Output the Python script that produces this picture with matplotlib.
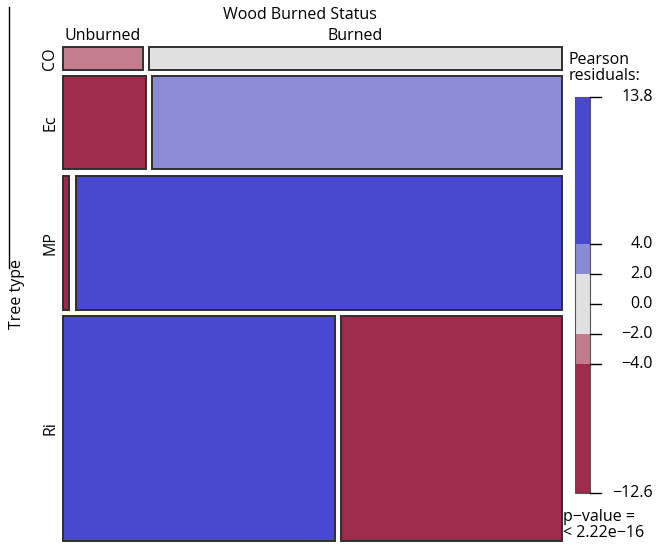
import matplotlib
matplotlib.use('Agg')

import numpy as np
from matplotlib import pyplot as plt
from matplotlib.patches import Rectangle

tree_types = ['CO', 'Ec', 'MP', 'Ri']
status = ['Unburned', 'Burned']
unburned = [16, 66, 7, 526]
burned = [83, 329, 561, 427]

counts = np.array([unburned, burned], dtype=float).T
n = counts.sum()
expected = np.outer(counts.sum(1), counts.sum(0)) / n
resid = (counts - expected) / np.sqrt(expected)

# shading_hcl style colours
c_pos_hi = '#4849D0'
c_pos_lo = '#8A8BD5'
c_mid = '#E0E0E0'
c_neg_lo = '#C27C8D'
c_neg_hi = '#9E2A4C'

def shade(r):
    if r > 4:
        return c_pos_hi
    if r > 2:
        return c_pos_lo
    if r < -4:
        return c_neg_hi
    if r < -2:
        return c_neg_lo
    return c_mid

plt.rcParams['font.family'] = ['Open Sans', 'DejaVu Sans']

fig = plt.figure(figsize=(6.56, 5.47), dpi=100)
ax = fig.add_axes([0, 0, 1, 1])
ax.set_xlim(0, 656)
ax.set_ylim(547, 0)
ax.axis('off')

# mosaic area in pixels
x0, x1 = 63.3, 561.7
y0, y1 = 46.7, 540.7
gap = 6.2

row_tot = counts.sum(1)
avail_h = (y1 - y0) - gap * (len(tree_types) - 1)
y = y0
for i, t in enumerate(tree_types):
    h = avail_h * row_tot[i] / n
    avail_w = (x1 - x0) - gap * (len(status) - 1)
    x = x0
    for j in range(len(status)):
        w = avail_w * counts[i, j] / row_tot[i]
        ax.add_patch(Rectangle((x, y), w, h, facecolor=shade(resid[i, j]),
                               edgecolor='#2f2f2f', lw=1.4))
        if i == 0:
            ax.text(x + w / 2, y - 11, status[j], ha='center', va='center', fontsize=11.5)
        x += w + gap
    ax.text(50, y + h / 2, t, rotation=90, ha='center', va='center', fontsize=11.5)
    y += h + gap

ax.text(300, 15, 'Wood Burned Status', ha='center', va='center', fontsize=11.5)
ax.text(17, (y0 + y1) / 2, 'Tree type', rotation=90, ha='center', va='center', fontsize=11.5)
ax.plot([8.5, 8.5], [7, 268], color='black', lw=1)

# legend bar
lo, hi = resid.min(), resid.max()
lb_top, lb_bot = 97, 493
lb_x, lb_w = 575, 15
def ypos(v):
    return lb_bot - (v - lo) / (hi - lo) * (lb_bot - lb_top)

bands = [(lo, -4, c_neg_hi), (-4, -2, c_neg_lo), (-2, 2, c_mid), (2, 4, c_pos_lo), (4, hi, c_pos_hi)]
for a, b, c in bands:
    ax.add_patch(Rectangle((lb_x, ypos(b)), lb_w, ypos(a) - ypos(b), facecolor=c, edgecolor='none'))
ax.add_patch(Rectangle((lb_x, lb_top), lb_w, lb_bot - lb_top, facecolor='none', edgecolor='#555555', lw=0.8))

ticks = [hi, 4, 2, 0, -2, -4, lo]
for v in ticks:
    yy = ypos(v)
    ax.plot([lb_x + lb_w, lb_x + lb_w + 11], [yy, yy], color='black', lw=1)
    ax.text(653, yy, ('%.1f' % v).replace('-', '\u2212'), ha='right', va='center', fontsize=11.5)

ax.text(569, 68, 'Pearson\nresiduals:', ha='left', va='center', fontsize=11.5, linespacing=0.95)
ax.text(563, 525, 'p\u2212value =\n< 2.22e\u221216', ha='left', va='center', fontsize=11.5, linespacing=0.95)

plt.savefig('out.png', dpi=100)
